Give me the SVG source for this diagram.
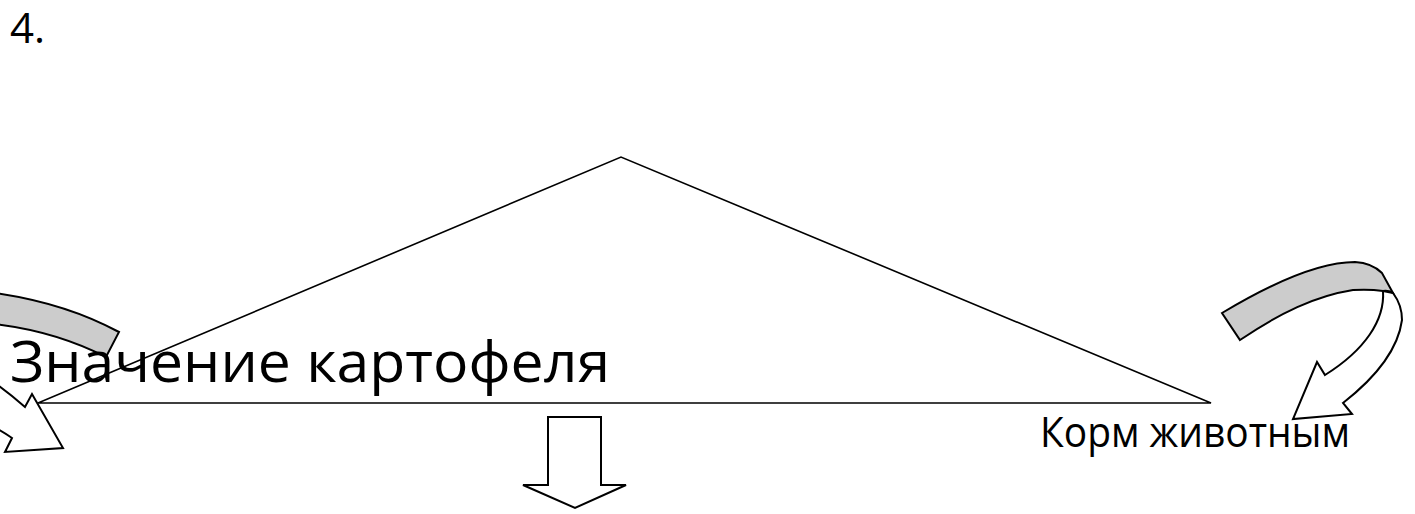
<svg xmlns="http://www.w3.org/2000/svg" width="1415" height="514" viewBox="0 0 1415 514">
<style>
.t{font-family:"Open Sans","Noto Sans","Liberation Sans",sans-serif;fill:#000}
.ln{fill:none;stroke:#000;stroke-width:1.6}
.gray{fill:#cccccc;stroke:#000;stroke-width:2;stroke-linejoin:miter}
.wh{fill:#fff;stroke:#000;stroke-width:2;stroke-linejoin:miter}
</style>
<rect width="1415" height="514" fill="#fff"/>
<text class="t" x="10" y="43" font-size="42">4.</text>
<g id="connectors">
<g id="arrow-left">
<path class="gray" d="M119,332 Q60,300 -20,291 L-30,322 Q45,326 106,357 Z"/>
<path class="wh" d="M-40,362 Q-8,378 25,407 L32,394 L63,448 L5,452 L12,438 Q-8,424 -40,412 Z"/>
</g>
<g id="arrow-right">
<path class="wh" d="M1383,291 C1385,320 1365,350 1325,375 L1317,362 L1293,419 L1352,414 L1343,403 C1375,378 1398,350 1402,320 Q1402,305 1393,293 Z"/>
<path class="gray" d="M1222,313 C1262,289 1315,262 1355,262 Q1372,263 1382,273 L1393,293 Q1388,290 1383,291 Q1370,289 1353,290 C1315,296 1280,313 1240,340 Z"/>
</g>
<g id="arrow-down">
<path class="wh" d="M548,417 L601,417 L601,485 L626,485 L575,508 L523,485 L548,485 Z"/>
</g>
</g>
<g id="triangle">
<path class="ln" d="M38,403 L621,157 L1211,403 Z"/>
</g>
<g id="node-main">
<text class="t" x="10" y="382" font-size="56" textLength="600" lengthAdjust="spacingAndGlyphs">Значение картофеля</text>
</g>
<g id="node-feed">
<text class="t" x="1040" y="447" font-size="42" textLength="310" lengthAdjust="spacingAndGlyphs">Корм животным</text>
</g>
</svg>
